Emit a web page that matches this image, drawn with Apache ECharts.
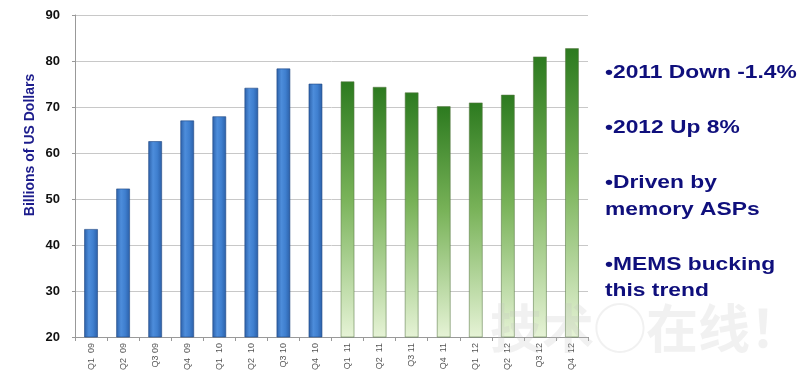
<!DOCTYPE html>
<html>
<head>
<meta charset="utf-8">
<script src="https://cdn.jsdelivr.net/npm/echarts@6/dist/echarts.min.js"></script>
<style>html,body{margin:0;padding:0;background:#fff}#c{width:800px;height:385px}</style>
</head>
<body>
<div id="c"></div>
<script>
var categories = ['Q1  09','Q2  09','Q3 09','Q4  09','Q1  10','Q2  10','Q3 10','Q4  10','Q1  11','Q2  11','Q3 11','Q4  11','Q1  12','Q2  12','Q3 12','Q4  12'];
var values = [43.5, 52.3, 62.6, 67.1, 68.0, 74.2, 78.4, 75.1, 75.6, 74.4, 73.2, 70.2, 71.0, 72.7, 81.0, 82.8];
var actualCount = 8;
var yTicks = [20, 30, 40, 50, 60, 70, 80, 90];
var notes = ['•2011 Down -1.4%', '•2012 Up 8%', '•Driven by', 'memory ASPs', '•MEMS bucking', 'this trend'];

var blue = new echarts.graphic.LinearGradient(0,0,1,0,[
  {offset:0,color:'#2a5ea6'},{offset:0.35,color:'#4d8ddb'},{offset:0.65,color:'#3f7fcf'},{offset:1,color:'#2a5ea6'}]);
var green = new echarts.graphic.LinearGradient(0,0,0,1,[
  {offset:0,color:'#2c7a1f'},{offset:0.45,color:'#78b258'},{offset:1,color:'#e6f3d6'}]);

var chart = echarts.init(document.getElementById('c'));
var noteY = [73, 128, 183, 210, 265, 291];
var graphics = notes.map(function(t,i){
  return {type:'text', x:605, y:noteY[i], scaleX:1.2, scaleY:1,
    style:{text:t, font:'bold 19px Arial', fill:'#0f0f7c', verticalAlign:'middle'}};
});
graphics.push({type:'text', x:30, y:145, rotation:Math.PI/2,
  style:{text:'Billions of US Dollars', font:'bold 14px Arial', fill:'#1c1c8c', align:'center', verticalAlign:'middle'}});
graphics.push({type:'text', left:490, top:302, z:100, silent:true,
  style:{text:'技术◯在线！', font:'bold 52px "Noto Sans CJK SC"', fill:'rgba(190,190,190,0.22)'}});

chart.setOption({
  animation:false,
  grid:{left:75, right:212, top:15, bottom:48},
  xAxis:{type:'category', data:categories,
    axisLine:{lineStyle:{color:'#999'}},
    axisTick:{show:true, length:4, lineStyle:{color:'#999'}},
    axisLabel:{rotate:90, fontSize:9, color:'#555', fontFamily:'Arial', margin:6}},
  yAxis:{type:'value', min:yTicks[0], max:yTicks[yTicks.length-1], interval:10,
    axisLine:{show:true, lineStyle:{color:'#999'}},
    axisTick:{show:true, length:3, lineStyle:{color:'#999'}},
    splitLine:{lineStyle:{color:'#c8c8c8'}},
    axisLabel:{fontSize:13, fontWeight:'bold', color:'#111', fontFamily:'Arial', margin:15}},
  series:[{type:'bar', barWidth:14,
    data: values.map(function(v,i){
      return {value:v, itemStyle:{color: i<actualCount ? blue : green,
        borderColor: i<actualCount ? 'rgba(30,70,130,0.6)' : 'rgba(90,120,70,0.55)', borderWidth:1}};
    })}],
  graphic:graphics
});
</script>
</body>
</html>
